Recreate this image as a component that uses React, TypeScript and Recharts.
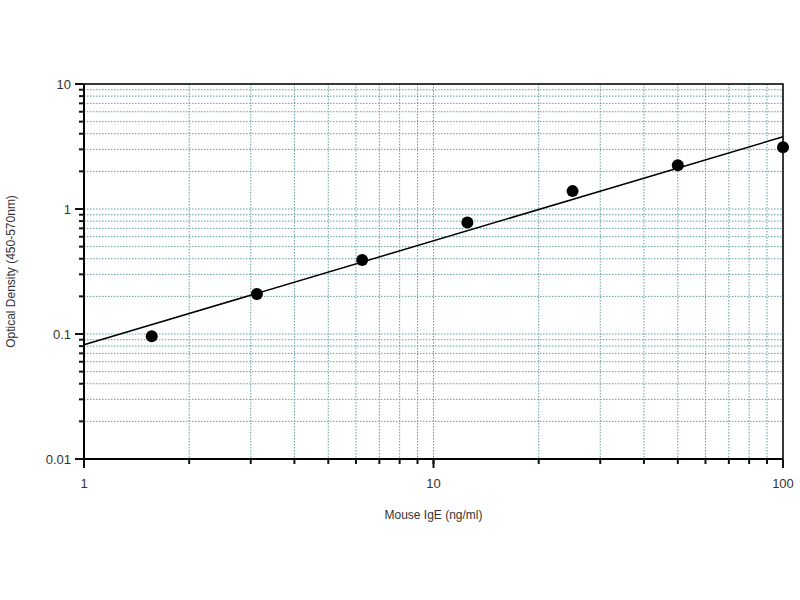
import { CartesianGrid, ComposedChart, Line, ReferenceArea, Scatter, XAxis, YAxis } from 'recharts';

// standard curve: concentration (ng/ml) vs OD
const CONCENTRATION = [1.5625, 3.125, 6.25, 12.5, 25, 50, 100];
const OD_VALUES = [0.096, 0.209, 0.39, 0.78, 1.39, 2.24, 3.12];

// fitted power-law line endpoints
const FIT_X = [1, 100];
const FIT_Y = [0.082, 3.78];

const X_TICKS = [1, 2, 3, 4, 5, 6, 7, 8, 9, 10, 20, 30, 40, 50, 60, 70, 80, 90, 100];
const Y_TICKS = [
  0.01, 0.02, 0.03, 0.04, 0.05, 0.06, 0.07, 0.08, 0.09,
  0.1, 0.2, 0.3, 0.4, 0.5, 0.6, 0.7, 0.8, 0.9,
  1, 2, 3, 4, 5, 6, 7, 8, 9, 10,
];
const X_LABELS = [1, 10, 100];
const Y_LABELS = [0.01, 0.1, 1, 10];

const points = CONCENTRATION.map((x, i) => ({ x, y: OD_VALUES[i] }));
const fit = FIT_X.map((x, i) => ({ x, y: FIT_Y[i] }));

const FONT = '"Liberation Sans", Arial, sans-serif';
const GRID = '#5f9ca3';
const TICK = 5;

// x/y arrive already shifted by the built-in tick length
function XTick(props: any) {
  const { x, y, payload } = props;
  const major = X_LABELS.includes(payload.value);
  const axisY = y - TICK;
  if (!major) return <g />;
  return (
    <g>
      <path d={`M${x},${axisY}V${axisY + 9}`} stroke="#111" strokeWidth={2} fill="none" />
      <text x={x} y={axisY + 29} textAnchor="middle" fontSize={13} fill="#333" fontFamily={FONT}>
        {payload.value}
      </text>
    </g>
  );
}

function YTick(props: any) {
  const { x, y, payload } = props;
  const major = Y_LABELS.includes(payload.value);
  const axisX = x + TICK;
  if (!major) return <g />;
  return (
    <g>
      <path d={`M${axisX},${y}H${axisX - 9}`} stroke="#111" strokeWidth={2} fill="none" />
      <text x={axisX - 13} y={y + 5} textAnchor="end" fontSize={13} fill="#333" fontFamily={FONT}>
        {payload.value}
      </text>
    </g>
  );
}

export default function App() {
  return (
    <div style={{ position: 'absolute', left: 0, top: 0, width: 800, height: 600, background: '#fff' }}>
      <ComposedChart width={800} height={600} margin={{ top: 84, right: 17, bottom: 81, left: 0 }}>
        <CartesianGrid stroke={GRID} strokeDasharray="1.5 1.5" strokeWidth={1} />
        <XAxis
          type="number"
          dataKey="x"
          scale="log"
          domain={[1, 100]}
          ticks={X_TICKS}
          interval={0}
          height={60}
          tickSize={TICK}
          tickMargin={0}
          tickLine={{ stroke: '#111', strokeWidth: 2 }}
          axisLine={{ stroke: '#000', strokeWidth: 2 }}
          tick={(p: any) => <XTick {...p} />}
          label={{
            value: 'Mouse IgE (ng/ml)',
            position: 'insideBottom',
            offset: 0,
            style: { fontSize: 12, fill: '#333', fontFamily: FONT },
          }}
        />
        <YAxis
          type="number"
          dataKey="y"
          scale="log"
          domain={[0.01, 10]}
          ticks={Y_TICKS}
          interval={0}
          width={84}
          tickSize={TICK}
          tickMargin={0}
          tickLine={{ stroke: '#111', strokeWidth: 2 }}
          axisLine={{ stroke: '#000', strokeWidth: 2 }}
          tick={(p: any) => <YTick {...p} />}
          label={{
            value: 'Optical Density (450-570nm)',
            angle: -90,
            position: 'insideLeft',
            offset: 11,
            style: { fontSize: 12, fill: '#333', fontFamily: FONT, textAnchor: 'middle' },
          }}
        />
        <ReferenceArea x1={1} x2={100} y1={0.01} y2={10} fill="none" stroke="#000" strokeWidth={1.5} />
        <Line
          data={fit}
          dataKey="y"
          type="linear"
          stroke="#000"
          strokeWidth={1.5}
          dot={false}
          isAnimationActive={false}
        />
        <Scatter
          data={points}
          dataKey="y"
          fill="#000"
          isAnimationActive={false}
          shape={(p: any) => <circle cx={p.cx} cy={p.cy} r={6} fill="#000" />}
        />
      </ComposedChart>
    </div>
  );
}
